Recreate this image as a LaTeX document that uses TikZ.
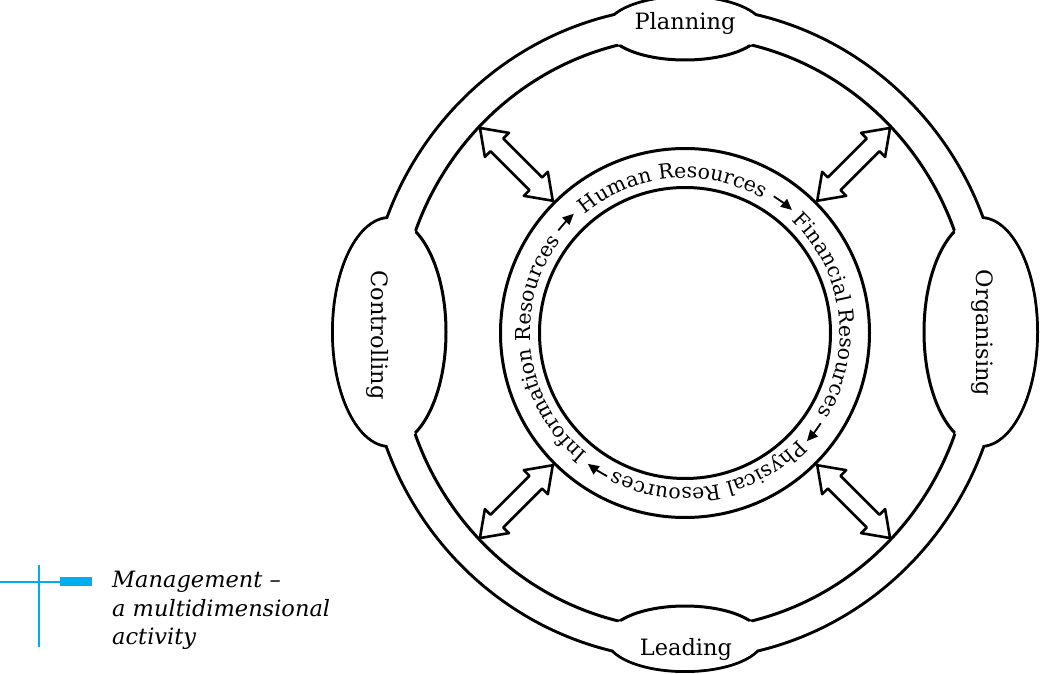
\documentclass[tikz,border=0pt]{standalone}
\usepackage{fontspec}
\setmainfont{DejaVu Serif}
\usetikzlibrary{arrows.meta,decorations.text}
\definecolor{bookblue}{RGB}{0,174,239}
\newcommand\lobefont{\fontsize{22.5}{22.5}\selectfont}
\newcommand\ringfont{\fontsize{20.5}{20.5}\selectfont}
\newcommand\capfont{\fontsize{22.5}{28.5}\selectfont\itshape}
% lobes: centre x / centre y / x radius / y radius
\newcommand\lobelist{685/644/77/31, 685/35/77/32, 390/341/56/113, 980/341/56/113}

\begin{document}
\begin{tikzpicture}[x=1pt, y=1pt, line join=round,
    ringline/.style={line width=3pt},
    lobelabel/.style={font=\lobefont, inner sep=0pt},
    ringlabel/.style={decorate, decoration={text along path, text align=center, text={|\ringfont|#1}}},
    ringarrow/.style={line width=1.8pt, -{Triangle[length=11pt, width=10pt]}},
    bothways/.style={line width=2.6pt, fill=white}]
  \useasboundingbox (0,0) rectangle (1045,673);
  \coordinate (C) at (685,340);

  % outer ring with its four lobes
  \draw[line width=6pt] (C) ellipse [x radius=317, y radius=325];
  \foreach \p/\q/\rx/\ry in \lobelist
    \draw[line width=6pt] (\p,\q) ellipse [x radius=\rx, y radius=\ry];
  \fill[white] (C) ellipse [x radius=317, y radius=325];
  \foreach \p/\q/\rx/\ry in \lobelist
    \fill[white] (\p,\q) ellipse [x radius=\rx, y radius=\ry];
  \draw[ringline] (C) ellipse [x radius=287, y radius=296];
  \foreach \p/\q/\rx/\ry in \lobelist
    \fill[white] (\p,\q) ellipse [x radius=\rx, y radius=\ry];
  \begin{scope}
    \clip (C) ellipse [x radius=287, y radius=296];
    \foreach \p/\q/\rx/\ry in \lobelist
      \draw[ringline] (\p,\q) ellipse [x radius=\rx, y radius=\ry];
  \end{scope}

  \node[lobelabel, anchor=base] (plan) at (685,643) {Planning};
  \node[lobelabel, anchor=base] (lead) at (686,18) {Leading};
  \node[lobelabel, rotate=-90] (ctrl) at (378,338) {Controlling};
  \node[lobelabel, rotate=-90] (org) at (982,340) {Organising};

  % resources ring
  \draw[ringline] (C) circle [radius=145.5];
  \draw[ringline] (C) circle [radius=184.5];
  \foreach \ang/\word in {95/Human Resources, 7.7/Financial Resources, -80.1/Physical Resources, -172.8/Information Resources}
    \path[ringlabel=\word] ([shift={(C)}]\ang+70:155) arc [start angle=\ang+70, end angle=\ang-70, radius=155];
  \foreach \ang in {137,53,-37.6,-122.6}
    \draw[ringarrow] ([shift={(C)}]\ang+4:163) arc [start angle=\ang+4, end angle=\ang-4, radius=163];

  % hollow double arrows
  \foreach \ang in {45,135,225,315}
    \draw[bothways, shift={(C)}, rotate=\ang] (187,0) -- (211,17) -- (211,9) -- (266,9) -- (266,17)
      -- (290,0) -- (266,-17) -- (266,-9) -- (211,-9) -- (211,-17) -- cycle;

  % caption
  \draw[bookblue, line width=2pt] (39,108) -- (39,26);
  \draw[bookblue, line width=2pt] (0,91.5) -- (60,91.5);
  \fill[bookblue] (60,87) rectangle (92,96);
  \node[font=\capfont, align=left, anchor=north west, inner sep=0pt] (cap) at (112,102)
    {Management --\\a multidimensional\\activity};
\end{tikzpicture}
\end{document}
